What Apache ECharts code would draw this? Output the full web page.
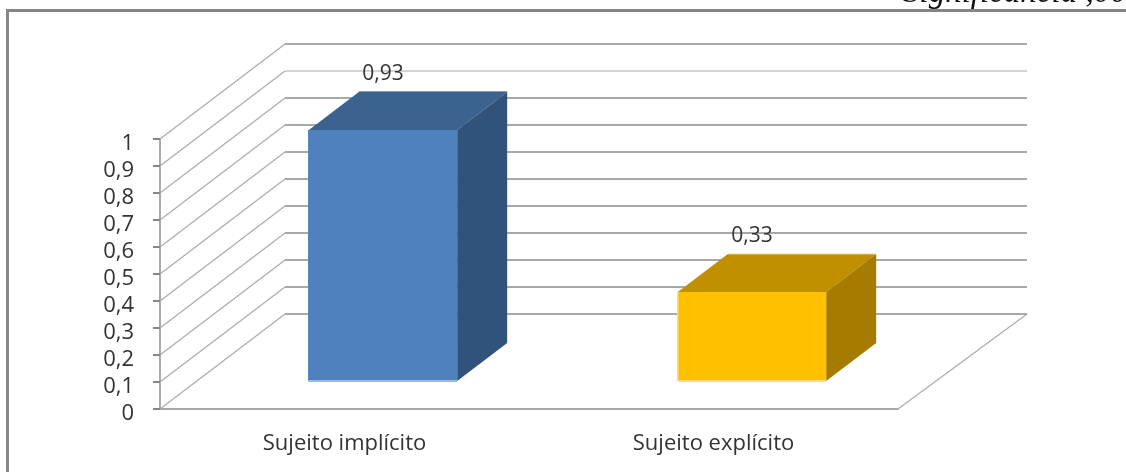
<!DOCTYPE html>
<html>
<head>
<meta charset="utf-8">
<style>html,body{margin:0;padding:0;background:#fff}#chart{width:1126px;height:472px}</style>
<script src="https://cdn.jsdelivr.net/npm/echarts@6/dist/echarts.min.js"></script>
</head>
<body>
<div id="chart"></div>
<script>
// Sujeito implícito vs explícito, drawn as a pseudo-3D column chart.
const categories = ['Sujeito implícito', 'Sujeito explícito'];
const values = [0.93, 0.33];
const valueLabels = ['0,93', '0,33'];
const gridLevels = [0, 0.1, 0.2, 0.3, 0.4, 0.5, 0.6, 0.7, 0.8, 0.9, 1];
const faceColors = [
  { front: '#4F81BD', top: '#3C6290', side: '#31527A', edge: '#9DB9DB', leftEdge: '#4F81BD', topEdge: '#3C6290' },
  { front: '#FFC000', top: '#C09000', side: '#A67C00', edge: '#FBDC80', leftEdge: '#FBD970', topEdge: '#F2E0A8' }
];

const WALL = { dx: 125, dy: -95 };        // floor depth of the chart box
const BAR_OFFSET = { dx: 38.5, dy: -28 }; // front face of a column relative to the axis
const BAR_DEPTH = { dx: 50, dy: -38 };    // depth of a column
const BAR_WIDTH_RATIO = 0.402;
const LINE = '#A8A8A8';
const TEXT_FONT = '"Open Sans"';

function poly(points, fill) {
  return { type: 'polygon', shape: { points }, style: { fill, stroke: null } };
}

function renderWall(params, api) {
  const value = api.value(0);
  const sys = params.coordSys;
  const y = api.coord([0, value])[1];
  const x0 = sys.x;
  const x1 = x0 + WALL.dx;
  const y1 = y + WALL.dy;
  const thin = value === 0.9;
  const children = [
    { type: 'line', shape: { x1: x0, y1: y, x2: x1, y2: y1 }, style: { stroke: '#ABABAB', lineWidth: 1.2, fill: null } },
    { type: 'line', shape: { x1, y1, x2: x0 + sys.width + WALL.dx + 4, y2: y1 }, style: { stroke: LINE, lineWidth: thin ? 1 : 2, fill: null } }
  ];
  if (value === 0) {
    const xr = x0 + sys.width;
    children.push({ type: 'line', shape: { x1: xr, y1: y, x2: xr + WALL.dx + 4, y2: y1 }, style: { stroke: '#ABABAB', lineWidth: 1.2, fill: null } });
  }
  return { type: 'group', children };
}

function renderBar(params, api) {
  const idx = api.value(0);
  const val = api.value(1);
  const band = api.size([1, 0])[0];
  const c = faceColors[idx];
  const centre = api.coord([idx, 0]);
  const topPt = api.coord([idx, val]);
  const w = band * BAR_WIDTH_RATIO;
  const l = centre[0] + BAR_OFFSET.dx - w / 2;
  const r = l + w;
  const b = centre[1] + BAR_OFFSET.dy;
  const t = topPt[1] + BAR_OFFSET.dy;
  const dx = BAR_DEPTH.dx;
  const dy = BAR_DEPTH.dy;
  return {
    type: 'group',
    children: [
      poly([[l, t], [l + dx, t + dy], [r + dx, t + dy], [r, t]], c.top),
      poly([[r, t], [r + dx, t + dy], [r + dx, b + dy], [r, b]], c.side),
      poly([[l, t], [r, t], [r, b], [l, b]], c.front),
      { type: 'line', shape: { x1: l, y1: t, x2: l, y2: b }, style: { stroke: c.leftEdge, lineWidth: 1.5, fill: null } },
      { type: 'line', shape: { x1: l, y1: b, x2: r, y2: b }, style: { stroke: c.edge, lineWidth: 2, fill: null } },
      { type: 'line', shape: { x1: l + dx, y1: t + dy, x2: r + dx, y2: t + dy }, style: { stroke: c.topEdge, lineWidth: 1, fill: null } },
      {
        type: 'text',
        style: {
          x: (l + r) / 2, y: t + dy - 18,
          text: valueLabels[idx],
          font: '21px ' + TEXT_FONT, fill: '#333', align: 'center', verticalAlign: 'middle'
        }
      }
    ]
  };
}

const chart = echarts.init(document.getElementById('chart'), null, { renderer: 'canvas' });
chart.setOption({
  animation: false,
  backgroundColor: '#fff',
  graphic: [
    { type: 'rect', silent: true, shape: { x: 7.5, y: 10.5, width: 1300, height: 700 }, style: { fill: 'none', stroke: '#868686', lineWidth: 3 }, z: 0 },
    { type: 'text', silent: true, style: { x: 903, y: -23, text: 'Significância ,000', font: 'italic 33px "Liberation Serif"', fill: '#111' } }
  ],
  grid: { left: 160, right: 228, top: 139, height: 270 },
  xAxis: {
    type: 'category',
    data: categories,
    axisLine: { lineStyle: { color: LINE, width: 2 } },
    axisTick: { length: 9, lineStyle: { color: '#868686', width: 2 } },
    axisLabel: { color: '#333', fontFamily: 'Open Sans', fontSize: 22, margin: 24, interval: 0 }
  },
  yAxis: {
    type: 'value',
    min: 0,
    max: 1,
    interval: 0.1,
    splitLine: { show: false },
    axisLine: { show: true, lineStyle: { color: '#ABABAB', width: 2 } },
    axisTick: { show: true, length: 7, lineStyle: { color: '#868686', width: 2 } },
    axisLabel: {
      color: '#333', fontFamily: 'Open Sans', fontSize: 22, margin: 26,
      formatter: v => String(v).replace('.', ','),
      verticalAlign: 'top',
      lineHeight: 9
    }
  },
  series: [
    {
      type: 'custom', silent: true, coordinateSystem: 'cartesian2d',
      data: gridLevels.map(v => [v]),
      encode: { y: 0 },
      renderItem: renderWall, clip: false, z: 1
    },
    {
      type: 'custom', silent: true, coordinateSystem: 'cartesian2d',
      data: values.map((v, i) => [i, v]),
      encode: { x: 0, y: 1 },
      renderItem: renderBar, clip: false, z: 2
    }
  ]
});
</script>
</body>
</html>
